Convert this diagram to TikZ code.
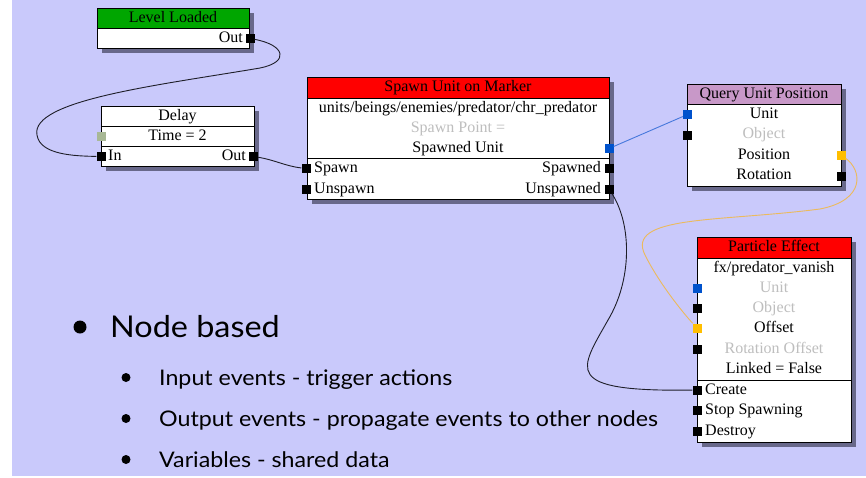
\documentclass[tikz,border=0pt]{standalone}
\usepackage{fontspec}
\setmainfont{Liberation Serif}
\newfontfamily\slidefont[FakeStretch=1.08]{Lato}

\definecolor{slidebg}{RGB}{201,201,251}
\definecolor{boxshadow}{RGB}{104,104,138}
\definecolor{hdrgreen}{RGB}{0,166,0}
\definecolor{hdrred}{RGB}{255,0,0}
\definecolor{hdrplum}{RGB}{200,152,200}
\definecolor{dimtext}{RGB}{190,190,190}
\definecolor{portblue}{RGB}{0,82,204}
\definecolor{portyellow}{RGB}{255,190,0}
\definecolor{portsage}{RGB}{168,184,150}
\definecolor{wireblue}{RGB}{70,120,220}
\definecolor{wireyellow}{RGB}{236,186,92}
\definecolor{wiredark}{RGB}{30,30,40}

% one flow-graph panel: x1,y1,x2,y2, header bottom, header colour
\newcommand\flowpanel[6]{%
  \fill[boxshadow] (#1+5,#2+5) rectangle (#3+5,#4+5);
  \fill[white] (#1,#2) rectangle (#3,#4);
  \fill[#6] (#1,#2) rectangle (#3,#5);
  \draw[boxline] (#1,#2) rectangle (#3,#4);
  \draw[boxline] (#1,#5) -- (#3,#5);}

\tikzset{
  boxline/.style={draw=black, line width=0.9pt},
  rowtext/.style={inner sep=0pt, text height=11.5pt, text depth=3.5pt,
    font=\fontsize{16}{18}\selectfont},
  dimrow/.style={rowtext, text=dimtext},
  leftrow/.style={rowtext, anchor=west},
  rightrow/.style={rowtext, anchor=east},
  port/.style={rectangle, inner sep=0pt, minimum size=9pt, draw=none, fill=black},
  wire/.style={draw=wiredark, line width=0.9pt},
  bulletbig/.style={inner sep=0pt, anchor=base west, font=\slidefont\fontsize{30}{34}\selectfont},
  bulletsmall/.style={inner sep=0pt, anchor=base west, font=\slidefont\fontsize{21.5}{25}\selectfont},
}

\begin{document}
\begin{tikzpicture}[x=1pt, y=-1pt]
\useasboundingbox (0,0) rectangle (866,477);
\fill[white] (0,0) rectangle (866,477);
\fill[slidebg] (12,0) rectangle (866,476);

% ---- Level Loaded
\flowpanel{97}{8}{249}{48}{28}{hdrgreen}
\node[rowtext] (llt) at (173,18) {Level Loaded};
\node[rightrow] (llo) at (243,38) {Out};
\node[port] (llout) at (250,38.5) {};

% ---- Delay
\flowpanel{101}{106}{254}{166}{126}{white}
\draw[boxline] (101,146) -- (254,146);
\node[rowtext] (dt) at (177.5,116) {Delay};
\node[rowtext] (dtime) at (177.5,136) {Time = 2};
\node[leftrow] (din) at (108,156) {In};
\node[rightrow] (dout) at (246,156) {Out};
\node[port, fill=portsage] (dtimep) at (101,136) {};
\node[port] (dinp) at (101,156.5) {};
\node[port] (doutp) at (253.5,156.5) {};

% ---- Spawn Unit on Marker
\flowpanel{307}{77}{609}{199}{98}{hdrred}
\draw[boxline] (307,158) -- (609,158);
\node[rowtext] (st) at (458,87.5) {Spawn Unit on Marker};
\node[rowtext] (sunit) at (458,108) {units/beings/enemies/predator/chr\_predator};
\node[dimrow] (spoint) at (458,128) {Spawn Point =};
\node[rowtext] (sspawned) at (458,148) {Spawned Unit};
\node[leftrow] (sspawn) at (314,168.5) {Spawn};
\node[leftrow] (sunspawn) at (314,189) {Unspawn};
\node[rightrow] (sspawnedev) at (601,168.5) {Spawned};
\node[rightrow] (sunspawnedev) at (601,189) {Unspawned};
\node[port, fill=portblue] (sunitp) at (609,148.5) {};
\node[port] (sspawnp) at (306,168.5) {};
\node[port] (sunspawnp) at (306,189) {};
\node[port] (sspawnedp) at (609,168.5) {};
\node[port] (sunspawnedp) at (609,189) {};

% ---- Query Unit Position
\flowpanel{687}{84}{841}{186}{104}{hdrplum}
\node[rowtext] (qt) at (764,94) {Query Unit Position};
\node[rowtext] (qunit) at (764,114) {Unit};
\node[dimrow] (qobj) at (764,134.5) {Object};
\node[rowtext] (qpos) at (764,155) {Position};
\node[rowtext] (qrot) at (764,175) {Rotation};
\node[port, fill=portblue] (qunitp) at (687.5,114.5) {};
\node[port] (qobjp) at (687.5,135) {};
\node[port, fill=portyellow] (qposp) at (841,155) {};
\node[port] (qrotp) at (841,176) {};

% ---- Particle Effect
\flowpanel{697}{237}{851}{442}{258}{hdrred}
\draw[boxline] (697,380) -- (851,380);
\node[rowtext] (pt) at (774,247.5) {Particle Effect};
\node[rowtext] (pfx) at (774,268) {fx/predator\_vanish};
\node[dimrow] (punit) at (774,288) {Unit};
\node[dimrow] (pobj) at (774,308) {Object};
\node[rowtext] (poff) at (774,328) {Offset};
\node[dimrow] (proff) at (774,349) {Rotation Offset};
\node[rowtext] (plink) at (774,369) {Linked = False};
\node[leftrow] (pcreate) at (705,390) {Create};
\node[leftrow] (pstop) at (705,410.5) {Stop Spawning};
\node[leftrow] (pdestroy) at (705,431) {Destroy};
\node[port, fill=portblue] (punitp) at (697,288) {};
\node[port] (pobjp) at (697,308) {};
\node[port, fill=portyellow] (poffp) at (697,328) {};
\node[port] (proffp) at (697,349) {};
\node[port] (pcreatep) at (697,390) {};
\node[port] (pstopp) at (697,410.5) {};
\node[port] (pdestroyp) at (697,431) {};

% ---- connections
\draw[wire] (llout) .. controls (285,45) and (290,62) .. (260,68)
  .. controls (160,85) and (30,100) .. (37,135)
  .. controls (40,155) and (75,156) .. (dinp);
\draw[wire] (doutp) .. controls (275,160) and (285,166) .. (sspawnp);
\draw[draw=wireblue, line width=0.9pt] (sunitp) -- (qunitp);
\draw[draw=wireyellow, line width=0.9pt] (qposp) .. controls (862,170) and (866,200) .. (820,209)
  .. controls (720,222) and (625,215) .. (645,255)
  .. controls (660,285) and (685,315) .. (poffp);
\draw[wire] (sunspawnedp) .. controls (632,225) and (632,280) .. (608,320)
  .. controls (580,370) and (560,392) .. (pcreatep);

% ---- bullet list
\fill[black] (80,327) circle (6.5);
\node[bulletbig] (b1) at (110,337) {Node based};
\fill[black] (126,377.5) circle (4.5);
\node[bulletsmall] (b2) at (159,385) {Input events - trigger actions};
\fill[black] (126,418.5) circle (4.5);
\node[bulletsmall] (b3) at (159,426) {Output events - propagate events to other nodes};
\fill[black] (126,459.5) circle (4.5);
\node[bulletsmall] (b4) at (159,467) {Variables - shared data};
\end{tikzpicture}
\end{document}
